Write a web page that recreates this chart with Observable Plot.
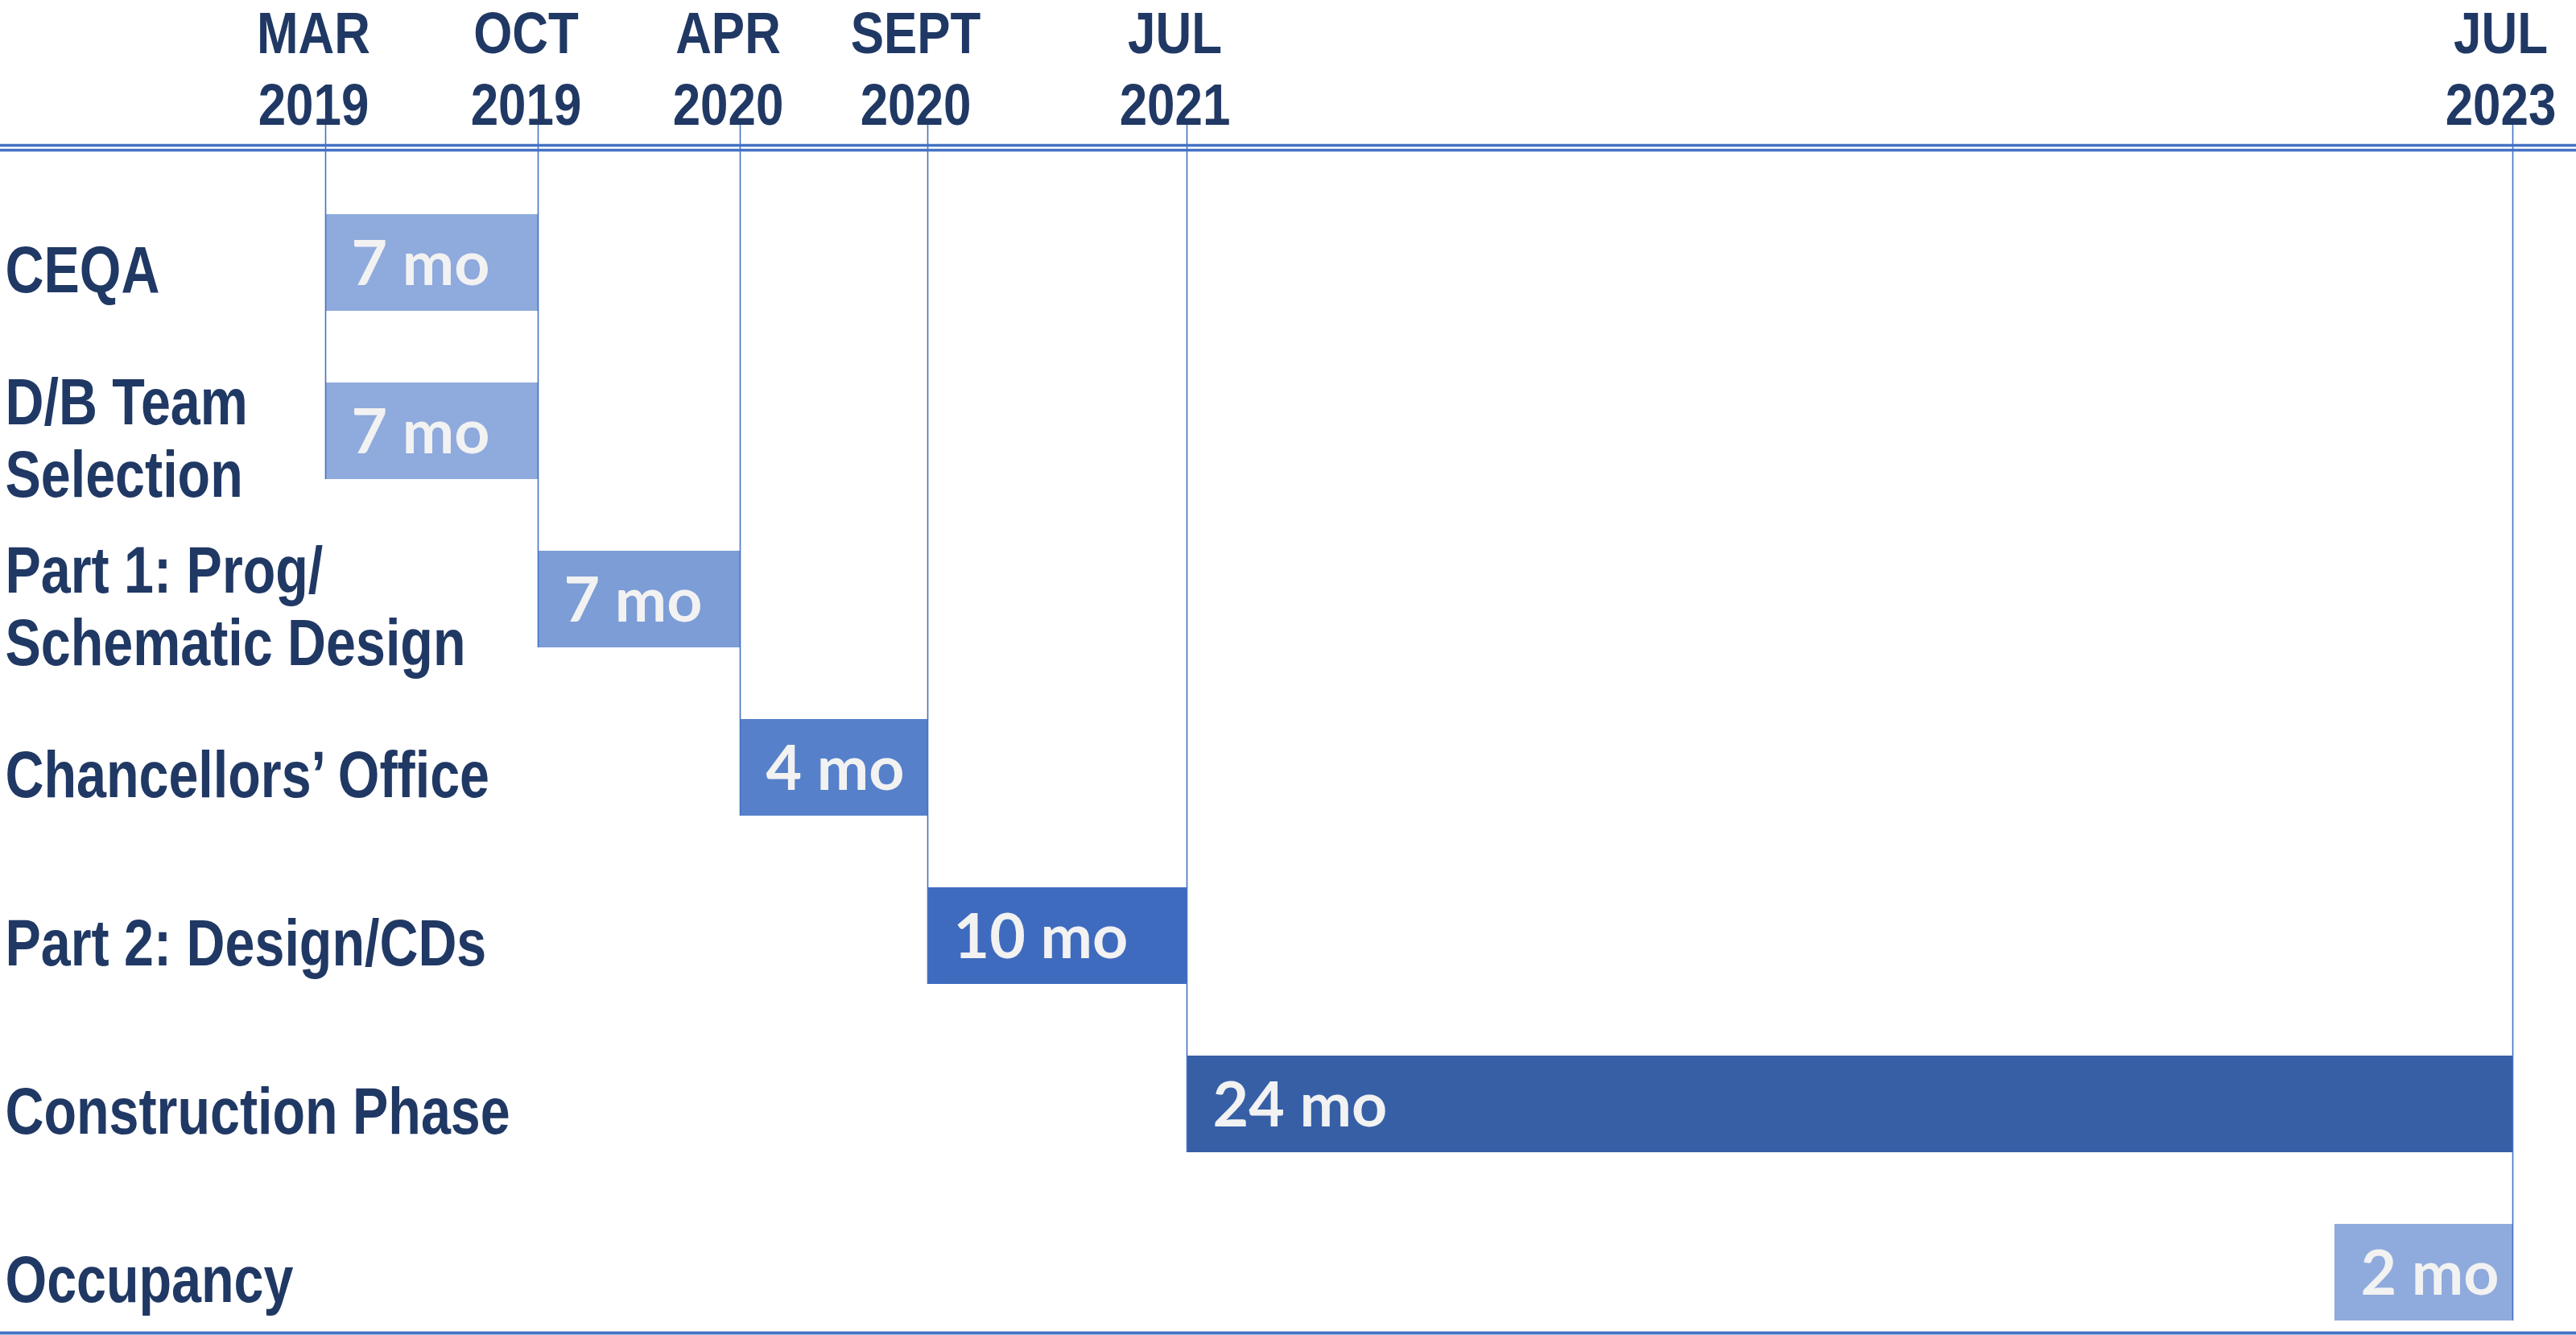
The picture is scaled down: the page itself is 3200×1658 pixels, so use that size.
<!DOCTYPE html>
<html>
<head>
<meta charset="utf-8">
<script src="https://cdn.jsdelivr.net/npm/d3@7"></script>
<script src="https://cdn.jsdelivr.net/npm/@observablehq/plot@0.6"></script>
<style>
  html, body { margin: 0; padding: 0; background: #fff; }
  #chart svg { display: block; }
</style>
</head>
<body>
<div id="chart"></div>
<script>
// ---- data ----
const taskNames = [
  "CEQA",
  "D/B Team\nSelection",
  "Part 1: Prog/\nSchematic Design",
  "Chancellors’ Office",
  "Part 2: Design/CDs",
  "Construction Phase",
  "Occupancy"
];
const taskStart = ["2019-03-01", "2019-03-01", "2019-10-01", "2020-04-01", "2020-09-01", "2021-07-01", "2023-03-25"];
const taskEnd   = ["2019-10-01", "2019-10-01", "2020-04-01", "2020-09-01", "2021-07-01", "2023-07-01", "2023-07-01"];
const durationLabels = ["7 mo", "7 mo", "7 mo", "4 mo", "10 mo", "24 mo", "2 mo"];

const milestoneDates  = ["2019-03-01", "2019-10-01", "2020-04-01", "2020-09-01", "2021-07-01", "2023-07-01"];
const milestoneMonths = ["MAR", "OCT", "APR", "SEPT", "JUL", "JUL"];
const milestoneYears  = ["2019", "2019", "2020", "2020", "2021", "2023"];

// ---- tables built from the arrays ----
const parse = d3.utcParse("%Y-%m-%d");
const tasks = taskNames.map((name, i) => ({
  task: name,
  start: parse(taskStart[i]),
  end: parse(taskEnd[i]),
  label: durationLabels[i]
}));
const milestones = milestoneDates.map((d, i) => {
  const date = parse(d);
  const touching = tasks.filter(t => +t.start === +date || +t.end === +date);
  return {
    date,
    label: milestoneMonths[i] + "\n" + milestoneYears[i],
    first: taskNames[0],
    last: touching.length ? touching[touching.length - 1].task : taskNames[taskNames.length - 1]
  };
});

const navy = "#203864";
const lineBlue = "#4472C4";
const rowFont = "Liberation Sans";        // condensed below to mimic Arial Narrow Bold
const headFont = "Liberation Sans, Arial"; // condensed slightly less

const chart = Plot.plot({
  width: 3200,
  height: 1658,
  marginLeft: 0,
  marginRight: 0,
  marginTop: 254,
  marginBottom: 6,
  style: { background: "white", overflow: "visible" },
  x: {
    type: "utc",
    domain: milestoneDates.map(parse),
    range: [404, 668, 919, 1152, 1474, 3121],
    axis: null
  },
  y: {
    domain: taskNames,
    paddingInner: 0.4272,
    paddingOuter: 0.05,
    axis: null
  },
  color: {
    type: "ordinal",
    domain: taskNames,
    range: ["#8FAADC", "#8FAADC", "#7C9DD6", "#5680C9", "#3F6BBF", "#365FA6", "#8FAADC"]
  },
  marks: [
    // double rule under the header and the bottom rule
    Plot.frame({ stroke: lineBlue, strokeWidth: 3.5, insetLeft: -10, insetRight: -10, insetTop: -74, insetBottom: -3 }),
    Plot.frame({ stroke: lineBlue, strokeWidth: 3.5, insetLeft: -10, insetRight: -10, insetTop: -68, insetBottom: -3 }),
    // bars
    Plot.barX(tasks, { x1: "start", x2: "end", y: "task", fill: "task" }),
    // milestone drop lines
    Plot.ruleX(milestones, { x: "date", y1: "first", y2: "last", stroke: lineBlue, strokeWidth: 1.6, insetTop: -111 }),
    // duration labels in bars
    Plot.text(tasks, {
      x: "start", y: "task", text: "label",
      textAnchor: "start", dx: 32, dy: 3,
      fill: "#F2F2F2", fontFamily: "Lato, 'Open Sans', sans-serif", fontWeight: 700, fontSize: 77
    }),
    // row labels
    Plot.text(tasks, {
      y: "task", text: "task", frameAnchor: "left",
      textAnchor: "start", dx: 6, dy: 8, lineHeight: 1.11,
      fill: navy, fontFamily: rowFont, fontWeight: 700, fontSize: 81
    }),
    // header milestone labels
    Plot.text(milestones, {
      x: "date", text: "label", frameAnchor: "top",
      lineAnchor: "bottom", lineHeight: 1.23, dy: -100, dx: -15,
      fill: navy, fontFamily: headFont, fontWeight: 700, fontSize: 72
    })
  ]
});

// condense the label text horizontally (narrow bold look of the original)
function condense(selector, k) {
  d3.select(chart).selectAll(selector).each(function () {
    const t = this.getAttribute("transform") || "";
    this.setAttribute("transform", `${t} scale(${k},1)`);
  });
}
condense(`g[font-family="${rowFont}"] text`, 0.82);
condense(`g[font-family="${headFont}"] text`, 0.86);

document.getElementById("chart").append(chart);
</script>
</body>
</html>
